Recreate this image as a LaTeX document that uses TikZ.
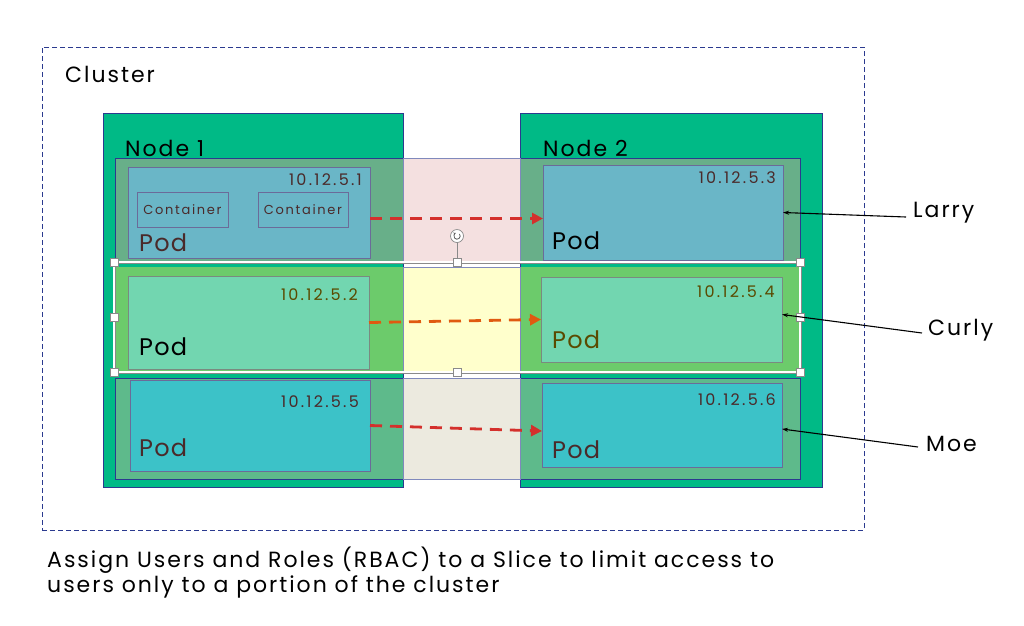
\documentclass[tikz,border=0pt]{standalone}
\usepackage{fontspec}
\setmainfont{Poppins}
\newfontfamily\lblfont[LetterSpace=9]{Poppins}
\newfontfamily\ipfont[LetterSpace=14]{Poppins}
\newfontfamily\ctfont[LetterSpace=13]{Poppins}
\newfontfamily\podfont[LetterSpace=5]{Poppins}
\usetikzlibrary{arrows.meta,calc}
\definecolor{navy}{HTML}{2B3A8F}
\definecolor{nodegreen}{HTML}{00BA86}
\definecolor{rowA}{HTML}{68AF89}
\definecolor{gapA}{HTML}{F4E0E0}
\definecolor{rowB}{HTML}{6CCB6B}
\definecolor{gapB}{HTML}{FFFFCC}
\definecolor{rowC}{HTML}{5EBA8B}
\definecolor{gapC}{HTML}{ECEADF}
\definecolor{podA}{HTML}{6AB6C7}
\definecolor{podB}{HTML}{72D6B0}
\definecolor{podC}{HTML}{3CC2C8}
\definecolor{podborder}{HTML}{6B6B99}
\definecolor{podgrey}{HTML}{7A8A80}
\definecolor{dashred}{HTML}{D4302C}
\definecolor{dashorange}{HTML}{E05A10}
\definecolor{maroon}{HTML}{4A2A2A}
\definecolor{olive}{HTML}{5A4A00}
\definecolor{handle}{HTML}{8A8A8A}
\tikzset{
  box/.style={rectangle, anchor=north west, inner sep=0pt, outer sep=0pt},
  nodebox/.style={box, fill=nodegreen, draw=navy, line width=0.8pt},
  rowbox/.style={box, draw=navy, line width=0.8pt},
  gapbox/.style={box, draw=navy!60, line width=0.6pt},
  podbox/.style={box, draw=podborder, line width=1pt},
  ctbox/.style={box, draw=podborder, line width=1pt},
  cttext/.style={inner sep=0pt, text=maroon, font=\ctfont\fontsize{13}{15}\selectfont},
  iptext/.style={anchor=east, inner sep=0pt, font=\ipfont\fontsize{16}{18}\selectfont},
  podtext/.style={anchor=west, inner sep=0pt, font=\podfont\fontsize{24}{28}\selectfont},
  bigtext/.style={anchor=west, inner sep=0pt, font=\lblfont\fontsize{22}{26}\selectfont},
  usertext/.style={anchor=west, inner sep=0pt, font=\lblfont\fontsize{22}{26}\selectfont},
  flow/.style={line width=2.8pt, dash pattern=on 12pt off 8pt, -{Triangle[length=11pt,width=11pt]}},
  pointer/.style={line width=1.1pt, black, -{Stealth[length=6pt,width=4pt]}},
  selhandle/.style={rectangle, draw=handle, fill=white, minimum size=8pt, inner sep=0pt, line width=0.7pt},
}
\begin{document}
\begin{tikzpicture}[x=1pt,y=-1pt]
\useasboundingbox[fill=white] (0,0) rectangle (1024,625);
% cluster
\node[box, draw=navy, line width=0.9pt, dash pattern=on 5pt off 3pt, minimum width=822pt, minimum height=483pt] (cluster) at (42,47) {};
\node[bigtext] (clusterlbl) at (65,74) {Cluster};
% nodes
\node[nodebox, minimum width=300pt, minimum height=374pt] (node1) at (103,113) {};
\node[nodebox, minimum width=302pt, minimum height=374pt] (node2) at (520,113) {};
% row 1 (Larry)
\node[rowbox, fill=rowA, minimum width=685pt, minimum height=104pt] (rowA) at (115,158) {};
\node[gapbox, fill=gapA, minimum width=117pt, minimum height=104pt] (gapA) at (403,158) {};
% row 2 (Curly)
\node[rowbox, draw=none, fill=rowB, minimum width=685pt, minimum height=104pt] (rowB) at (115,267) {};
\node[gapbox, fill=gapB, minimum width=117pt, minimum height=104pt] (gapB) at (403,267) {};
% row 3 (Moe)
\node[rowbox, fill=rowC, minimum width=685pt, minimum height=101pt] (rowC) at (115,378) {};
\node[gapbox, fill=gapC, minimum width=117pt, minimum height=101pt] (gapC) at (403,378) {};
% node labels
\node[bigtext] (n1lbl) at (125,148) {Node 1};
\node[bigtext] (n2lbl) at (543,148) {Node 2};
% pods row 1
\node[podbox, fill=podA, minimum width=242pt, minimum height=91pt] (p1) at (128,167) {};
\node[iptext, text=maroon] (ip1) at (362,180) {10.12.5.1};
\node[ctbox, minimum width=91pt, minimum height=35pt] (c1) at (137,192) {};
\node[cttext] (c1t) at (c1.center) {Container};
\node[ctbox, minimum width=90pt, minimum height=35pt] (c2) at (258,192) {};
\node[cttext] (c2t) at (c2.center) {Container};
\node[podtext, text=maroon] (pod1) at (139,243) {Pod};
\node[podbox, fill=podA, minimum width=240pt, minimum height=95pt] (p3) at (543,165) {};
\node[iptext, text=maroon] (ip3) at (776,178) {10.12.5.3};
\node[podtext, text=black] (pod3) at (552,241) {Pod};
% pods row 2
\node[podbox, draw=podgrey, fill=podB, minimum width=241pt, minimum height=93pt] (p2) at (128,276) {};
\node[iptext, text=olive] (ip2) at (358,295) {10.12.5.2};
\node[podtext, text=black] (pod2) at (139,347) {Pod};
\node[podbox, draw=podgrey, fill=podB, minimum width=241pt, minimum height=85pt] (p4) at (541,277) {};
\node[iptext, text=olive] (ip4) at (775,292) {10.12.5.4};
\node[podtext, text=olive] (pod4) at (552,340) {Pod};
% pods row 3
\node[podbox, fill=podC, minimum width=240pt, minimum height=91pt] (p5) at (130,380) {};
\node[iptext, text=maroon] (ip5) at (359,402) {10.12.5.5};
\node[podtext, text=maroon] (pod5) at (139,448) {Pod};
\node[podbox, fill=podC, minimum width=240pt, minimum height=84pt] (p6) at (542,383) {};
\node[iptext, text=maroon] (ip6) at (776,400) {10.12.5.6};
\node[podtext, text=maroon] (pod6) at (552,450) {Pod};
% flows
\draw[flow, dashred] ([yshift=-6pt]p1.east) -- ([yshift=-6pt]p3.west);
\draw[flow, dashorange] (p2.east) -- (p4.west);
\draw[flow, dashred] (p5.east) -- ([yshift=-6pt]p6.west);
% selection frame around row 2
\node[box, draw=handle, line width=3pt, minimum width=686pt, minimum height=110pt] (sel) at (114,262) {};
\node[box, draw=white, line width=1.6pt, minimum width=686pt, minimum height=110pt] (selw) at (114,262) {};
\coordinate (roth) at (457,236);
\draw[handle, line width=1pt] (sel.north) -- (roth);
\node[circle, draw=handle, fill=white, minimum size=13pt, inner sep=0pt, line width=0.7pt] (rot) at (roth) {};
\draw[handle!70!black, line width=0.8pt, -{Stealth[length=2.5pt,width=2.5pt]}] ([shift={(40:3.2pt)}]rot.center) arc[start angle=40, end angle=-250, radius=3.2pt];
\foreach \a in {north west, north, north east, west, east, south west, south, south east}
  \node[selhandle] at (sel.\a) {};
% users
\node[usertext] (larry) at (913,213) {Larry};
\node[usertext] (curly) at (928,330) {Curly};
\node[usertext] (moe) at (926,444) {Moe};
\draw[pointer] ([shift={(-7pt,-4pt)}]larry.west) -- (p3.east);
\draw[pointer] ([shift={(-6pt,-3pt)}]curly.west) -- ([yshift=5pt]p4.east);
\draw[pointer] ([shift={(-8pt,-3pt)}]moe.west) -- ([yshift=-4pt]p6.east);
% caption
\node[anchor=north west, inner sep=0pt, align=left, font=\lblfont\fontsize{22}{25}\selectfont] (caption) at (47,547) {Assign Users and Roles (RBAC) to a Slice to limit access to\\users only to a portion of the cluster};
\end{tikzpicture}
\end{document}
